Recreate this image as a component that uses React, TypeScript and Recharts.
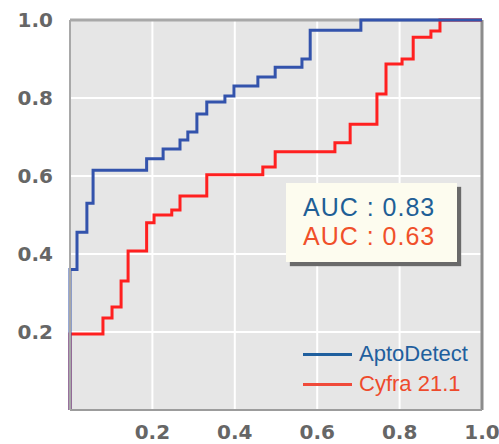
import React from 'react';
import { LineChart, Line, XAxis, YAxis, CartesianGrid, ReferenceLine, Legend } from 'recharts';

// ROC step vertices: (false positive rate at the rise, sensitivity after the rise)
const aptoFpr = [0, 0, 0.017, 0.041, 0.056, 0.186, 0.226, 0.267, 0.286, 0.308, 0.332, 0.376, 0.398, 0.456, 0.498, 0.563, 0.583, 0.706, 1.0];
const aptoTpr = [0, 0.36, 0.456, 0.53, 0.615, 0.644, 0.669, 0.692, 0.713, 0.759, 0.79, 0.805, 0.831, 0.854, 0.879, 0.9, 0.974, 1.0, 1.0];

const cyfraFpr = [0, 0, 0.08, 0.102, 0.124, 0.141, 0.186, 0.204, 0.247, 0.267, 0.332, 0.468, 0.498, 0.643, 0.68, 0.745, 0.767, 0.806, 0.833, 0.876, 0.898, 1.0];
const cyfraTpr = [0, 0.195, 0.236, 0.264, 0.331, 0.408, 0.48, 0.5, 0.513, 0.549, 0.603, 0.623, 0.662, 0.685, 0.733, 0.81, 0.887, 0.9, 0.956, 0.972, 1.0, 1.0];

const ticks = [0.2, 0.4, 0.6, 0.8, 1.0];
const aucLabels = ['AUC : 0.83', 'AUC : 0.63'];

const aptoData = aptoFpr.map((x, i) => ({ x, y: aptoTpr[i] }));
const cyfraData = cyfraFpr.map((x, i) => ({ x, y: cyfraTpr[i] }));

const legendText: Record<string, string> = { AptoDetect: '#1f5f9e', 'Cyfra 21.1': '#ee4a2c' };

const LegendBox = ({ payload }: any) => (
  <div style={{ fontFamily: '"Liberation Sans", Arial, sans-serif', fontSize: 22 }}>
    {(payload || []).map((p: any) => (
      <div key={p.value} style={{ display: 'flex', alignItems: 'center', height: 30 }}>
        <div style={{ width: 49, height: 3, background: p.value === 'AptoDetect' ? '#1f5f9e' : '#f04a3a' }} />
        <span style={{ marginLeft: 7, color: legendText[p.value] }}>{p.value}</span>
      </div>
    ))}
  </div>
);

export default function App() {
  const tickStyle = { fontFamily: '"DejaVu Sans", sans-serif', fontWeight: 'bold', fontSize: 20, fill: '#666' };
  return (
    <div style={{ position: 'absolute', left: 0, top: 0, width: 499, height: 444, background: '#fff' }}>
      <LineChart width={499} height={444} margin={{ top: 20, right: 17, left: 0, bottom: 0 }}>
        <CartesianGrid stroke="#fff" strokeWidth={2} fill="#e6e6e6" />
        <XAxis type="number" dataKey="x" domain={[0, 1]} ticks={ticks} tickFormatter={(v: number) => v.toFixed(1)}
          height={34} tickSize={0} tickMargin={15} tick={tickStyle} axisLine={{ stroke: '#9c9c9c', strokeWidth: 2 }} />
        <YAxis type="number" domain={[0, 1]} ticks={ticks} tickFormatter={(v: number) => v.toFixed(1)}
          width={70} tickSize={0} tickMargin={17} tick={tickStyle} axisLine={{ stroke: '#a8a8a8', strokeWidth: 2 }} />
        <ReferenceLine y={1} stroke="#a8a8a8" strokeWidth={3} />
        <ReferenceLine x={1} stroke="#8c8c8c" strokeWidth={3} />
        <Legend content={<LegendBox />} layout="horizontal" verticalAlign="middle" align="center"
          wrapperStyle={{ left: 303, top: 339, width: 180 }} />
        <Line data={cyfraData} dataKey="y" name="Cyfra 21.1" type="stepAfter" stroke="#ff2020" strokeWidth={3} dot={false} isAnimationActive={false} />
        <Line data={aptoData} dataKey="y" name="AptoDetect" type="stepAfter" stroke="#3353ac" strokeWidth={3} dot={false} isAnimationActive={false} />
      </LineChart>
      <div style={{
        position: 'absolute', left: 286, top: 183, width: 171, height: 79, boxSizing: 'border-box',
        background: '#fdfcef', boxShadow: '4px 4px 1px #6a6a6a', paddingTop: 10, paddingLeft: 17,
        fontFamily: '"Liberation Sans", Arial, sans-serif', fontSize: 25, lineHeight: '29px', letterSpacing: 1,
      }}>
        <div style={{ color: '#1f5f96' }}>{aucLabels[0]}</div>
        <div style={{ color: '#f0502a' }}>{aucLabels[1]}</div>
      </div>
    </div>
  );
}
